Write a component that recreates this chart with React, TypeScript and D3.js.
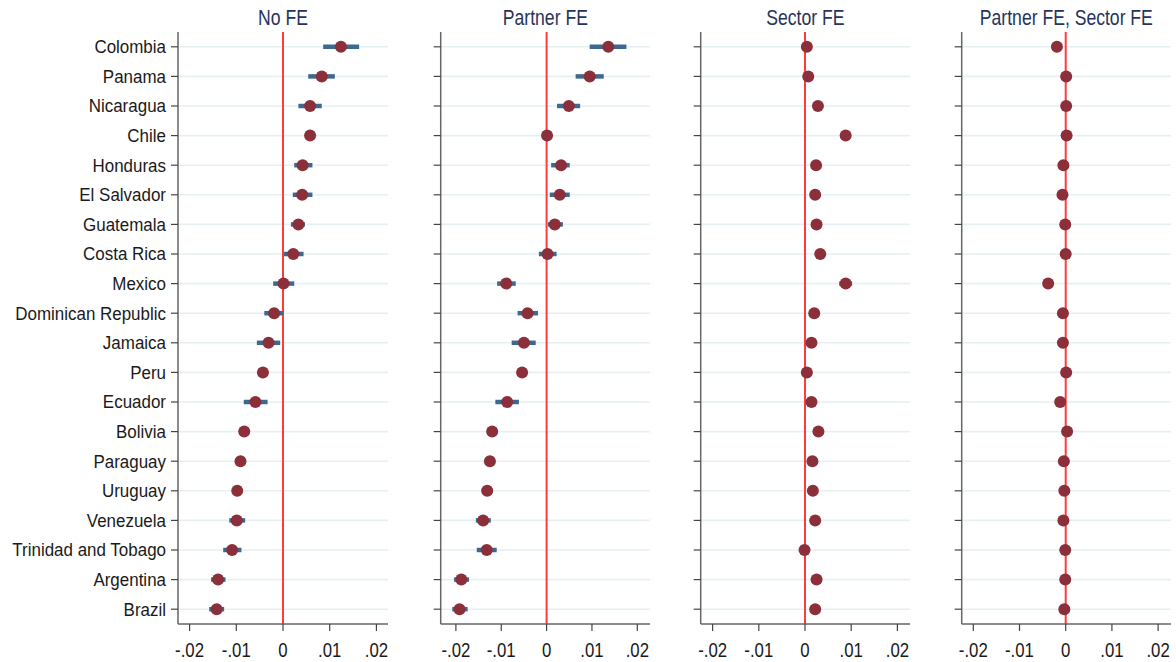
import React from "react"
import * as d3 from "d3"

// countries, top to bottom
const countries = [
  "Colombia", "Panama", "Nicaragua", "Chile", "Honduras", "El Salvador",
  "Guatemala", "Costa Rica", "Mexico", "Dominican Republic", "Jamaica", "Peru",
  "Ecuador", "Bolivia", "Paraguay", "Uruguay", "Venezuela",
  "Trinidad and Tobago", "Argentina", "Brazil",
]

const panelTitles = ["No FE", "Partner FE", "Sector FE", "Partner FE, Sector FE"]
const tickValues = [-0.02, -0.01, 0, 0.01, 0.02]
const tickLabels = ["-.02", "-.01", "0", ".01", ".02"]

// point estimates
const noFE = [
  0.0124, 0.0083, 0.0058, 0.0058, 0.0042, 0.0041, 0.0033, 0.0022, 0.0001, -0.0019,
  -0.0031, -0.0043, -0.0059, -0.0083, -0.0091, -0.0098, -0.0099, -0.0109, -0.0139, -0.0142,
]
const noFELo = [
  0.0086, 0.0054, 0.0033, 0.0048, 0.0024, 0.0021, 0.0017, 0.0002, -0.0021, -0.0040,
  -0.0056, -0.0051, -0.0084, -0.0094, -0.0102, -0.0108, -0.0115, -0.0128, -0.0154, -0.0158,
]
const noFEHi = [
  0.0163, 0.0111, 0.0083, 0.0068, 0.0063, 0.0063, 0.0047, 0.0044, 0.0024, 0.0001,
  -0.0006, -0.0035, -0.0033, -0.0072, -0.0080, -0.0088, -0.0081, -0.0089, -0.0123, -0.0126,
]

const partnerFE = [
  0.0136, 0.0095, 0.0049, 0.0001, 0.0032, 0.0029, 0.0018, 0.0002, -0.0089, -0.0042,
  -0.0050, -0.0054, -0.0087, -0.0120, -0.0125, -0.0131, -0.0140, -0.0132, -0.0188, -0.0192,
]
const partnerFELo = [
  0.0095, 0.0064, 0.0023, -0.0006, 0.0010, 0.0007, 0.0003, -0.0017, -0.0109, -0.0064,
  -0.0077, -0.0062, -0.0113, -0.0129, -0.0136, -0.0143, -0.0156, -0.0154, -0.0204, -0.0208,
]
const partnerFEHi = [
  0.0176, 0.0126, 0.0074, 0.0008, 0.0051, 0.0051, 0.0036, 0.0022, -0.0068, -0.0019,
  -0.0024, -0.0046, -0.0061, -0.0111, -0.0114, -0.0119, -0.0123, -0.0110, -0.0171, -0.0174,
]

const sectorFE = [
  0.0004, 0.0007, 0.0028, 0.0088, 0.0024, 0.0022, 0.0025, 0.0033, 0.0088, 0.0020,
  0.0014, 0.0004, 0.0014, 0.0029, 0.0016, 0.0017, 0.0022, -0.0001, 0.0025, 0.0022,
]
const sectorFELo = [
  -0.0003, 0.0000, 0.0021, 0.0081, 0.0017, 0.0015, 0.0018, 0.0026, 0.0074, 0.0013,
  0.0007, -0.0003, 0.0007, 0.0022, 0.0009, 0.0010, 0.0015, -0.0008, 0.0018, 0.0015,
]
const sectorFEHi = [
  0.0011, 0.0014, 0.0035, 0.0095, 0.0031, 0.0029, 0.0032, 0.0040, 0.0102, 0.0027,
  0.0021, 0.0011, 0.0021, 0.0036, 0.0023, 0.0024, 0.0029, 0.0006, 0.0032, 0.0029,
]

const bothFE = [
  -0.0019, 0.0001, 0.0001, 0.0002, -0.0005, -0.0007, -0.0001, 0.0000, -0.0038, -0.0006,
  -0.0006, 0.0001, -0.0012, 0.0003, -0.0004, -0.0003, -0.0005, -0.0001, -0.0001, -0.0003,
]
const bothFELo = [
  -0.0030, -0.0006, -0.0006, -0.0005, -0.0012, -0.0014, -0.0008, -0.0007, -0.0048, -0.0013,
  -0.0013, -0.0006, -0.0019, -0.0004, -0.0011, -0.0010, -0.0012, -0.0008, -0.0008, -0.0010,
]
const bothFEHi = [
  -0.0008, 0.0008, 0.0008, 0.0009, 0.0002, 0.0000, 0.0006, 0.0007, -0.0027, 0.0001,
  0.0001, 0.0008, -0.0005, 0.0010, 0.0003, 0.0004, 0.0002, 0.0006, 0.0006, 0.0004,
]

const series = [
  { est: noFE, lo: noFELo, hi: noFEHi },
  { est: partnerFE, lo: partnerFELo, hi: partnerFEHi },
  { est: sectorFE, lo: sectorFELo, hi: sectorFEHi },
  { est: bothFE, lo: bothFELo, hi: bothFEHi },
]

// plot-region layout for each panel (pixel range and value domain)
const panels = [
  { left: 178, right: 388, domain: [-0.02248, 0.02248] },
  { left: 440.7, right: 650, domain: [-0.02335, 0.0228] },
  { left: 700.7, right: 910, domain: [-0.02258, 0.02273] },
  { left: 961.7, right: 1171, domain: [-0.02251, 0.02279] },
]

const W = 1176
const H = 662
const top = 32
const bottom = 624

const font = "'Liberation Sans', Arial, sans-serif"

const App = () => {
  const y = d3.scalePoint<string>().domain(countries).range([top, bottom]).padding(0.5)

  return (
    <svg
      width={W}
      height={H}
      style={{ position: "absolute", left: 0, top: 0, background: "#fff" }}
      fontFamily={font}
    >
      {panels.map((p, pi) => {
        const x = d3.scaleLinear().domain(p.domain).range([p.left, p.right])
        const s = series[pi]
        const cx = (p.left + p.right) / 2
        return (
          <g key={pi}>
            {/* title */}
            <text
              transform={`translate(${cx},25) scale(0.8,1)`}
              textAnchor="middle"
              fontSize={22}
              fill="#26345c"
            >
              {panelTitles[pi]}
            </text>
            {/* grid lines */}
            {countries.map((c) => (
              <line
                key={c}
                x1={p.left}
                x2={p.right}
                y1={y(c)}
                y2={y(c)}
                stroke="#e6eff2"
                strokeWidth={1.6}
              />
            ))}
            {/* zero line */}
            <line x1={x(0)} x2={x(0)} y1={top} y2={bottom} stroke="#ff3b3b" strokeWidth={2} />
            {/* axes */}
            <line x1={p.left} x2={p.left} y1={top} y2={bottom} stroke="#666" strokeWidth={1.5} />
            <line x1={p.left} x2={p.right} y1={bottom} y2={bottom} stroke="#666" strokeWidth={1.5} />
            {countries.map((c) => (
              <line
                key={c}
                x1={p.left - 7}
                x2={p.left}
                y1={y(c)}
                y2={y(c)}
                stroke="#444"
                strokeWidth={1.2}
              />
            ))}
            {pi === 0 &&
              countries.map((c) => (
                <text
                  key={c}
                  transform={`translate(${p.left - 12},${y(c)! + 6.3}) scale(0.97,1)`}
                  textAnchor="end"
                  fontSize={17.5}
                  fill="#1a1a1a"
                >
                  {c}
                </text>
              ))}
            {tickValues.map((t, ti) => (
              <g key={t}>
                <line x1={x(t)} x2={x(t)} y1={bottom} y2={bottom + 7} stroke="#444" strokeWidth={1.2} />
                <text
                  transform={`translate(${x(t)},${bottom + 32.5}) scale(0.8,1)`}
                  textAnchor="middle"
                  fontSize={21}
                  fill="#1a1a1a"
                >
                  {tickLabels[ti]}
                </text>
              </g>
            ))}
            {/* confidence intervals */}
            {countries.map((c, i) => (
              <line
                key={c}
                x1={x(s.lo[i])}
                x2={x(s.hi[i])}
                y1={y(c)}
                y2={y(c)}
                stroke="#3d6890"
                strokeWidth={4.5}
              />
            ))}
            {/* estimates */}
            {countries.map((c, i) => (
              <circle key={c} cx={x(s.est[i])} cy={y(c)} r={6} fill="#8b2f3a" />
            ))}
          </g>
        )
      })}
    </svg>
  )
}

export default App
